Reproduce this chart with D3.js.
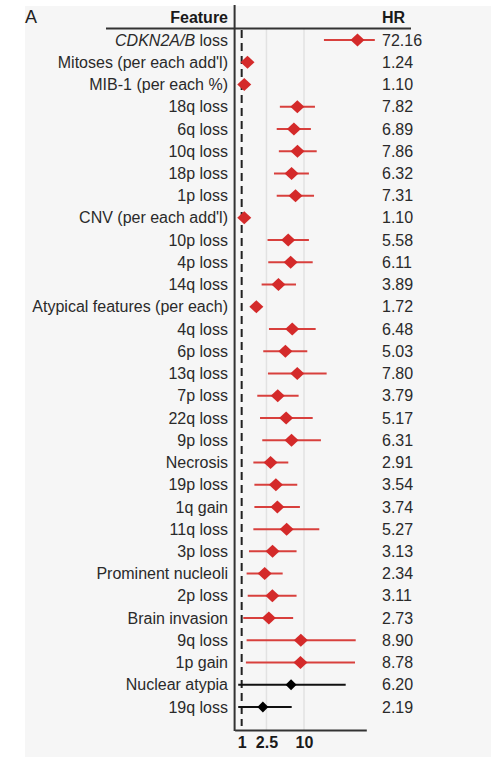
<!DOCTYPE html>
<html>
<head>
<meta charset="utf-8">
<script src="https://cdn.jsdelivr.net/npm/d3@7"></script>
<style>
  body { margin: 0; background: #fff; }
  svg { display: block; font-family: "Liberation Sans", Arial, sans-serif; }
</style>
</head>
<body>
<svg id="chart" width="491" height="757"></svg>
<script>
// data
const features = ["CDKN2A/B loss", "Mitoses (per each add'l)", "MIB-1 (per each %)", "18q loss", "6q loss",
  "10q loss", "18p loss", "1p loss", "CNV (per each add'l)", "10p loss", "4p loss", "14q loss",
  "Atypical features (per each)", "4q loss", "6p loss", "13q loss", "7p loss", "22q loss", "9p loss",
  "Necrosis", "19p loss", "1q gain", "11q loss", "3p loss", "Prominent nucleoli", "2p loss",
  "Brain invasion", "9q loss", "1p gain", "Nuclear atypia", "19q loss"];
const hr = [72.16, 1.24, 1.10, 7.82, 6.89, 7.86, 6.32, 7.31, 1.10, 5.58, 6.11, 3.89, 1.72, 6.48, 5.03,
  7.80, 3.79, 5.17, 6.31, 2.91, 3.54, 3.74, 5.27, 3.13, 2.34, 3.11, 2.73, 8.90, 8.78, 6.20, 2.19];
const lower = [20.9, 1.18, 1.05, 4.1, 3.65, 3.95, 3.3, 3.65, 1.06, 2.6, 2.67, 2.09, 1.55, 2.74, 2.22,
  2.64, 1.78, 1.97, 2.14, 1.54, 1.6, 1.6, 1.54, 1.31, 1.2, 1.25, 1.06, 1.2, 1.17, 0.88, 0.88];
const upper = [137, 1.3, 1.15, 15.0, 12.9, 16.0, 12.0, 14.5, 1.14, 12.0, 13.8, 7.44, 1.9, 15.4, 11.3,
  23.1, 8.2, 13.8, 18.7, 5.6, 7.8, 8.6, 17.6, 7.6, 4.55, 7.6, 6.7, 67.6, 65.9, 46.7, 6.35];
// last two are not significant (drawn black)
const significant = features.map((f, i) => i < 29);
const tickValues = [1, 2.5, 10];

const rows = features.map((f, i) => ({ feature: f, hr: hr[i], lo: lower[i], hi: upper[i], sig: significant[i] }));

const svg = d3.select("#chart");

// grey panel
svg.append("rect")
  .attr("x", 25).attr("y", 6)
  .attr("width", 466).attr("height", 751)
  .attr("fill", "#f6f6f6");

svg.append("text")
  .attr("x", 25).attr("y", 23)
  .attr("font-size", 18)
  .attr("fill", "#222")
  .text("A");

// scales
let x = d3.scaleLog()
  .domain([0.77, 100])
  .range([234.6, 366.3]);

let y = d3.scalePoint()
  .domain(features)
  .range([40, 707]);

// grid lines
svg.selectAll(".grid")
  .data([2.5, 10])
  .enter()
  .append("line")
    .attr("x1", d => x(d)).attr("x2", d => x(d))
    .attr("y1", 29).attr("y2", 730)
    .attr("stroke", "#e2e2e2")
    .attr("stroke-width", 1.5);

// reference line at HR = 1
svg.append("line")
  .attr("x1", x(1)).attr("x2", x(1))
  .attr("y1", 30).attr("y2", 726)
  .attr("stroke", "#222")
  .attr("stroke-width", 2)
  .attr("stroke-dasharray", "8,5");

// confidence intervals
svg.selectAll(".ci")
  .data(rows)
  .enter()
  .append("line")
    .attr("x1", d => x(d.lo)).attr("x2", d => x(d.hi))
    .attr("y1", d => y(d.feature)).attr("y2", d => y(d.feature))
    .attr("stroke", d => d.sig ? "#d8403d" : "#111")
    .attr("stroke-width", 2);

// diamonds
svg.selectAll(".pt")
  .data(rows)
  .enter()
  .append("path")
    .attr("d", d => {
      let r = d.sig ? 7 : 5.5;
      let h = d.sig ? 6.5 : 5.5;
      return `M0,${-h}L${r},0L0,${h}L${-r},0Z`;
    })
    .attr("transform", d => `translate(${x(d.hr)},${y(d.feature)})`)
    .attr("fill", d => d.sig ? "#d42a2a" : "#000");

// feature labels
let labels = svg.selectAll(".lab")
  .data(rows)
  .enter()
  .append("text")
    .attr("x", 228)
    .attr("y", d => y(d.feature))
    .attr("dy", "0.35em")
    .attr("text-anchor", "end")
    .attr("font-size", 16)
    .attr("fill", "#2a2a2a");

labels.each(function(d) {
  let t = d3.select(this);
  if (d.feature.startsWith("CDKN2A/B")) {
    t.append("tspan").attr("font-style", "italic").text("CDKN2A/B");
    t.append("tspan").text(" loss");
  } else {
    t.text(d.feature);
  }
});

// HR values
svg.selectAll(".val")
  .data(rows)
  .enter()
  .append("text")
    .attr("x", 382)
    .attr("y", d => y(d.feature))
    .attr("dy", "0.35em")
    .attr("font-size", 16)
    .attr("fill", "#2a2a2a")
    .text(d => d.hr.toFixed(2));

// headers
svg.append("text")
  .attr("x", 228).attr("y", 23)
  .attr("text-anchor", "end")
  .attr("font-size", 16).attr("font-weight", "bold")
  .attr("fill", "#1a1a1a")
  .text("Feature");

svg.append("text")
  .attr("x", 382).attr("y", 23)
  .attr("font-size", 16).attr("font-weight", "bold")
  .attr("fill", "#1a1a1a")
  .text("HR");

svg.append("line")
  .attr("x1", 106).attr("x2", 411)
  .attr("y1", 28.5).attr("y2", 28.5)
  .attr("stroke", "#333").attr("stroke-width", 2);

// vertical axis line
svg.append("line")
  .attr("x1", 234.6).attr("x2", 234.6)
  .attr("y1", 5).attr("y2", 731)
  .attr("stroke", "#333").attr("stroke-width", 2);

// x axis
let xAxis = svg.append("g")
  .attr("transform", "translate(0,730)")
  .call(d3.axisBottom(x).tickValues(tickValues).tickSize(0).tickSizeOuter(0).tickFormat(d3.format("")));

xAxis.select(".domain")
  .attr("stroke", "#333").attr("stroke-width", 2);

xAxis.selectAll("text")
  .attr("font-family", "Liberation Sans, Arial, sans-serif")
  .attr("font-size", 16)
  .attr("font-weight", "bold")
  .attr("fill", "#1a1a1a")
  .attr("dy", "0.71em")
  .attr("y", 7);
</script>
</body>
</html>
